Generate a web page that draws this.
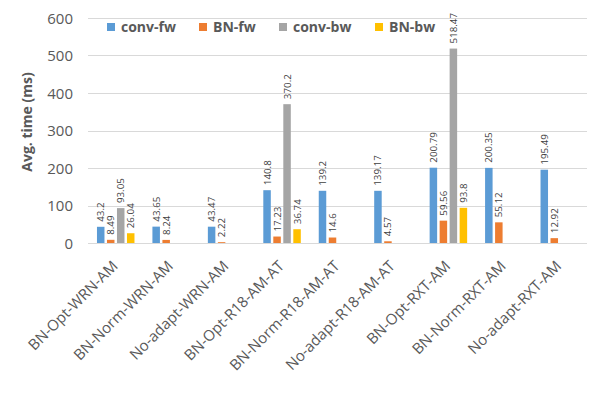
<!DOCTYPE html>
<html>
<head>
<meta charset="utf-8">
<script src="https://cdn.jsdelivr.net/npm/d3@7"></script>
<style>
  body { margin: 0; background: #fff; }
  svg text { font-family: "Open Sans", "Noto Sans", sans-serif; }
</style>
</head>
<body>
<div id="chart"></div>
<script>
const categories = [
  "BN-Opt-WRN-AM", "BN-Norm-WRN-AM", "No-adapt-WRN-AM",
  "BN-Opt-R18-AM-AT", "BN-Norm-R18-AM-AT", "No-adapt-R18-AM-AT",
  "BN-Opt-RXT-AM", "BN-Norm-RXT-AM", "No-adapt-RXT-AM",
];
const seriesNames = ["conv-fw", "BN-fw", "conv-bw", "BN-bw"];
const convFw = [43.2, 43.65, 43.47, 140.8, 139.2, 139.17, 200.79, 200.35, 195.49];
const bnFw = [8.49, 8.24, 2.22, 17.23, 14.6, 4.57, 59.56, 55.12, 12.92];
const convBw = [93.05, null, null, 370.2, null, null, 518.47, null, null];
const bnBw = [26.04, null, null, 36.74, null, null, 93.8, null, null];
const yTicks = [0, 100, 200, 300, 400, 500, 600];
const colors = ["#5b9bd5", "#ed7d31", "#a5a5a5", "#ffc000"];

const width = 598, height = 397;
const margin = { top: 18, right: 11, bottom: 154, left: 88 };

const svg = d3
  .select("#chart")
  .append("svg")
  .attr("width", width)
  .attr("height", height);

const x = d3
  .scaleBand()
  .domain(categories)
  .range([margin.left, width - margin.right]);

const y = d3
  .scaleLinear()
  .domain([0, 600])
  .range([height - margin.bottom, margin.top]);

// inner scale for the four series within a group
const xs = d3
  .scaleBand()
  .domain(seriesNames)
  .range([-20, 20])
  .paddingInner(0.25)
  .paddingOuter(0.125);

// gridlines
svg
  .append("g")
  .selectAll("line")
  .data(yTicks)
  .enter()
  .append("line")
  .attr("x1", margin.left)
  .attr("x2", width - margin.right)
  .attr("y1", (d) => Math.round(y(d)) + 0.5)
  .attr("y2", (d) => Math.round(y(d)) + 0.5)
  .attr("stroke", "#d9d9d9")
  .attr("stroke-width", 1);

// y tick labels
svg
  .append("g")
  .selectAll("text")
  .data(yTicks)
  .enter()
  .append("text")
  .attr("x", 73)
  .attr("y", (d) => y(d) + 5.5)
  .attr("text-anchor", "end")
  .attr("fill", "#595959")
  .attr("font-size", 15)
  .text((d) => d);

// y axis title
svg
  .append("text")
  .attr("transform", "translate(32,122) rotate(-90)")
  .attr("text-anchor", "middle")
  .attr("fill", "#595959")
  .attr("font-size", 14)
  .attr("font-weight", "bold")
  .text("Avg. time (ms)");

const series = [convFw, bnFw, convBw, bnBw];
const rows = [];
categories.forEach((c, i) => {
  series.forEach((s, j) => {
    if (s[i] !== null) rows.push({ cat: c, name: seriesNames[j], value: s[i], k: j });
  });
});

const bars = svg.append("g");
bars
  .selectAll("rect")
  .data(rows)
  .enter()
  .append("rect")
  .attr("x", (d) => x(d.cat) + x.bandwidth() / 2 + xs(d.name))
  .attr("y", (d) => y(d.value))
  .attr("width", xs.bandwidth())
  .attr("height", (d) => y(0) - y(d.value))
  .attr("fill", (d) => colors[d.k]);

// value labels, rotated
bars
  .selectAll("text")
  .data(rows)
  .enter()
  .append("text")
  .attr("transform", (d) => {
    const cx = x(d.cat) + x.bandwidth() / 2 + xs(d.name) + xs.bandwidth() / 2 + 3.5;
    return `translate(${cx},${y(d.value) - 5}) rotate(-90)`;
  })
  .attr("fill", "#404040")
  .attr("font-size", 9.8)
  .text((d) => d.value);

// category labels
svg
  .append("g")
  .selectAll("text")
  .data(categories)
  .enter()
  .append("text")
  .attr("transform", (d) => `translate(${x(d) + x.bandwidth() / 2 + 3},${y(0) + 24}) rotate(-45)`)
  .attr("text-anchor", "end")
  .attr("fill", "#595959")
  .attr("font-size", 15)
  .text((d) => d);

// legend
const legendX = [107, 199, 279, 375];
const legend = svg
  .append("g")
  .selectAll("g")
  .data(seriesNames)
  .enter()
  .append("g")
  .attr("transform", (d, i) => `translate(${legendX[i]},23)`);
legend
  .append("rect")
  .attr("width", 8)
  .attr("height", 8)
  .attr("fill", (d, i) => colors[i]);
legend
  .append("text")
  .attr("x", 14)
  .attr("y", 9)
  .attr("fill", "#595959")
  .attr("font-size", 14)
  .attr("font-weight", "bold")
  .text((d) => d);
</script>
</body>
</html>
